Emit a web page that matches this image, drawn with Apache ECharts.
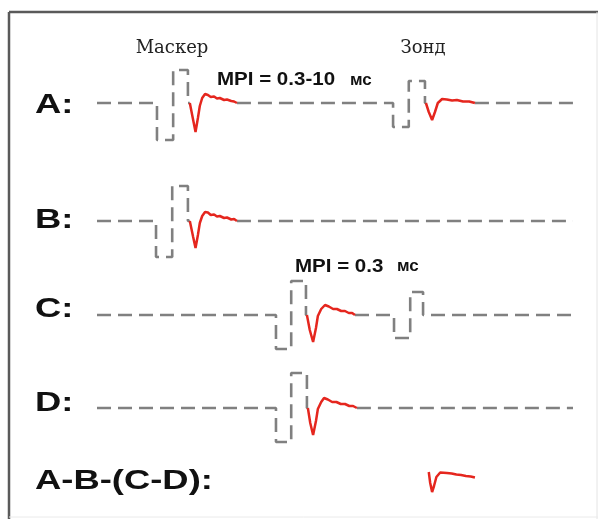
<!DOCTYPE html>
<html>
<head>
<meta charset="utf-8">
<script src="https://cdn.jsdelivr.net/npm/echarts@6.0.0/dist/echarts.min.js"></script>
<style>
    html, body {margin: 0; padding: 0; background: #fff;}
    #chart {width: 598px; height: 519px;}
</style>
</head>
<body>
<div id="chart"></div>
<script>
// row labels and annotation texts
const rowLabels = ['A:', 'B:', 'C:', 'D:', 'A-B-(C-D):'];
const stimulusNames = ['Маскер', 'Зонд'];
const mpiTexts = ['MPI = 0.3-10', 'MPI = 0.3'];
const unitText = 'мс';

// [time, amplitude] ; null amplitude = gap where the red response is drawn
const rowA_grey = [[0, 0], [12.6, 0], [12.6, -3.7], [16.0, -3.7], [16.0, 3.3], [19.1, 3.3], [19.1, 0], [19.5, 0], [19.6, null],
    [29.4, 0], [62.2, 0], [62.2, -2.4], [65.5, -2.4], [65.5, 2.2], [68.9, 2.2], [68.9, 0], [69.1, 0], [69.2, null],
    [79.4, 0], [100, 0]];
const rowA_red1 = [[19.5, 0], [20.2, -1.7], [20.7, -2.9], [21.2, -1.5], [21.6, -0.3], [22.1, 0.5], [22.7, 0.9], [23.3, 0.8],
    [23.9, 0.6], [24.6, 0.65], [25.2, 0.45], [25.8, 0.5], [26.7, 0.3], [27.3, 0.35], [28.2, 0.2], [28.8, 0.15], [29.4, 0]];
const rowA_red2 = [[69.1, 0], [69.7, -0.9], [70.4, -1.7], [71.0, -0.9], [71.6, 0], [72.5, 0.4], [73.5, 0.35], [74.6, 0.25],
    [75.6, 0.3], [76.9, 0.15], [78.2, 0.15], [79.4, 0]];

const rowB_grey = [[0, 0], [12.4, 0], [12.4, -3.6], [15.8, -3.6], [15.8, 3.5], [19.1, 3.5], [19.1, 0], [19.5, 0], [19.6, null],
    [29.4, 0], [100, 0]];
const rowB_red = [[19.5, 0], [20.2, -1.6], [20.7, -2.7], [21.2, -1.4], [21.6, -0.2], [22.1, 0.5], [22.7, 0.9], [23.3, 0.85],
    [23.9, 0.6], [24.6, 0.65], [25.2, 0.45], [25.8, 0.5], [26.7, 0.3], [27.3, 0.35], [28.2, 0.15], [28.8, 0.2], [29.4, 0]];

const rowC_grey = [[0, 0], [37.6, 0], [37.6, -3.4], [40.8, -3.4], [40.8, 3.4], [43.9, 3.4], [43.9, 0], [44.1, 0], [44.2, null],
    [54.2, 0], [62.4, 0], [62.4, -2.3], [65.8, -2.3], [65.8, 2.3], [68.5, 2.3], [68.5, 0], [100, 0]];
const rowC_red = [[44.1, 0], [44.7, -1.5], [45.4, -2.7], [46.0, -1.3], [46.4, -0.1], [47.1, 0.6], [47.9, 1.0], [48.7, 0.85],
    [49.6, 0.6], [50.4, 0.6], [51.3, 0.4], [52.1, 0.4], [52.9, 0.2], [53.6, 0.2], [54.2, 0]];

const rowD_grey = [[0, 0], [37.6, 0], [37.6, -3.4], [40.8, -3.4], [40.8, 3.5], [44.1, 3.5], [44.1, 0], [44.3, 0], [44.4, null],
    [54.6, 0], [100, 0]];
const rowD_red = [[44.3, 0], [44.8, -1.5], [45.4, -2.7], [46.0, -1.3], [46.4, -0.1], [47.1, 0.6], [47.7, 1.0], [48.5, 0.85],
    [49.4, 0.6], [50.3, 0.6], [51.2, 0.4], [52.1, 0.4], [53.0, 0.2], [53.8, 0.2], [54.6, 0]];

const diff_red = [[69.7, 0.6], [70.0, -0.5], [70.4, -1.4], [70.8, -0.8], [71.3, 0.1], [72.1, 0.55], [72.5, 0.6], [73.5, 0.5],
    [74.5, 0.45], [75.5, 0.35], [76.5, 0.3], [77.5, 0.2], [78.5, 0.15], [79.4, 0.05]];

const rows = [
    {grey: rowA_grey, red: [rowA_red1, rowA_red2]},
    {grey: rowB_grey, red: [rowB_red]},
    {grey: rowC_grey, red: [rowC_red]},
    {grey: rowD_grey, red: [rowD_red]},
    {grey: null, red: [diff_red]}
];

// layout (pixels)
const rowCenters = [103, 221, 315, 408, 478];
const labelCenters = [105, 220, 309, 403, 481];
const rowHalf = 40;

const GREY = '#808080';
const RED = '#e5261e';

let grids = [], xAxes = [], yAxes = [], series = [];
rows.forEach((row, i) => {
    grids.push({left: 97, right: 25, top: rowCenters[i] - rowHalf, height: rowHalf * 2});
    xAxes.push({type: 'value', gridIndex: i, min: 0, max: 100, show: false});
    yAxes.push({type: 'value', gridIndex: i, min: -4, max: 4, show: false});
    if (row.grey) {
        series.push({
            type: 'line', xAxisIndex: i, yAxisIndex: i, data: row.grey,
            showSymbol: false, connectNulls: false, silent: true,
            lineStyle: {color: GREY, width: 2.6, type: [14, 7]}
        });
    }
    row.red.forEach(d => {
        series.push({
            type: 'line', xAxisIndex: i, yAxisIndex: i, data: d,
            showSymbol: false, silent: true,
            lineStyle: {color: RED, width: 2.5}
        });
    });
});

function txt(x, y, text, font, opts) {
    opts = opts || {};
    return {
        type: 'text', x: x, y: y, scaleX: opts.scaleX || 1,
        style: {
            text: text, font: font, fill: opts.fill || '#111',
            textAlign: opts.align || 'left', align: opts.align || 'left',
            textVerticalAlign: 'middle', verticalAlign: 'middle'
        }
    };
}

let graphics = [
    {type: 'line', shape: {x1: 9, y1: 12, x2: 598, y2: 12}, style: {stroke: '#5a5a5a', lineWidth: 2.5}},
    {type: 'line', shape: {x1: 9, y1: 12, x2: 9, y2: 519}, style: {stroke: '#5a5a5a', lineWidth: 2.5}},
    {type: 'line', shape: {x1: 597, y1: 12, x2: 597, y2: 519}, style: {stroke: '#e4e4e4', lineWidth: 1}},
    {type: 'line', shape: {x1: 9, y1: 517, x2: 598, y2: 517}, style: {stroke: '#eaeaea', lineWidth: 1}}
];
rowLabels.forEach((l, i) => {
    graphics.push(txt(35, labelCenters[i], l, 'bold 28px "Liberation Sans", Arial, sans-serif', {scaleX: 1.3}));
});
graphics.push(txt(172, 48, stimulusNames[0], '18px "DejaVu Serif", serif', {align: 'center', fill: '#222'}));
graphics.push(txt(423, 48, stimulusNames[1], '18px "DejaVu Serif", serif', {align: 'center', fill: '#222'}));
graphics.push(txt(217, 80, mpiTexts[0], 'bold 19px "Liberation Sans", Arial, sans-serif', {scaleX: 1.08}));
graphics.push(txt(350, 80, unitText, 'bold 17px "Liberation Sans Narrow", "Liberation Sans", sans-serif'));
graphics.push(txt(295, 267, mpiTexts[1], 'bold 19px "Liberation Sans", Arial, sans-serif', {scaleX: 1.08}));
graphics.push(txt(397, 266, unitText, 'bold 17px "Liberation Sans Narrow", "Liberation Sans", sans-serif'));

let chart = echarts.init(document.getElementById('chart'));
chart.setOption({
    animation: false,
    backgroundColor: '#fff',
    grid: grids,
    xAxis: xAxes,
    yAxis: yAxes,
    series: series,
    graphic: graphics
});
</script>
</body>
</html>
